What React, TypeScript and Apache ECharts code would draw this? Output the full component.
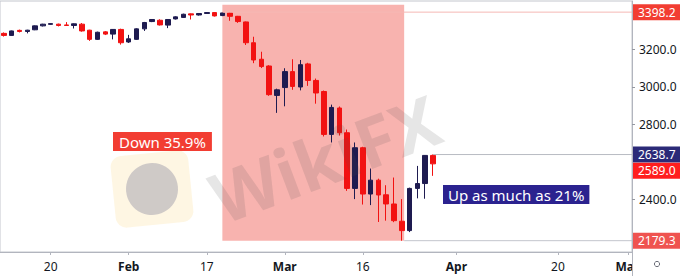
import React, { useEffect, useRef } from "react";
import * as echarts from "echarts";

const categories = [
  "01-10", "01-13", "01-14", "01-15", "01-16", "01-17", "01-20", "01-21", "01-22", "01-23", "01-24",
  "01-27", "01-28", "01-29", "01-30", "01-31",
  "02-03", "02-04", "02-05", "02-06", "02-07", "02-10", "02-11", "02-12", "02-13", "02-14",
  "02-17", "02-18", "02-19", "02-20", "02-21", "02-24", "02-25", "02-26", "02-27", "02-28",
  "03-02", "03-03", "03-04", "03-05", "03-06", "03-09", "03-10", "03-11", "03-12", "03-13",
  "03-16", "03-17", "03-18", "03-19", "03-20", "03-23", "03-24", "03-25", "03-26", "03-27",
  "03-30", "03-31",
  "04-01", "04-02", "04-03", "04-06", "04-07", "04-08", "04-09", "04-10", "04-13", "04-14",
  "04-15", "04-16", "04-17", "04-20", "04-21", "04-22", "04-23", "04-24", "04-27", "04-28",
  "04-29", "04-30", "05-01",
];

const opens = [
  3285, 3274, 3301, 3295, 3304, 3325, 3333, 3334, 3330, 3327, 3334, 3302, 3253, 3293, 3281, 3306,
  3239, 3253, 3309, 3348, 3355, 3329, 3362, 3370, 3389, 3383, 3391, 3396, 3380, 3394, 3376, 3346,
  3235, 3147, 3111, 2954, 2996, 3081, 2999, 3122, 3034, 2975, 2746, 2887, 2755, 2458, 2675, 2428,
  2502, 2424, 2375, 2283, 2233, 2458, 2484, 2634,
];
const highs = [
  3290, 3300, 3305, 3304, 3327, 3336, 3339, 3337, 3345, 3338, 3340, 3304, 3294, 3297, 3308, 3310,
  3277, 3312, 3346, 3361, 3360, 3361, 3376, 3390, 3391, 3393, 3397.5, 3397, 3398.2, 3397, 3378, 3348,
  3267, 3187, 3115, 2990, 3099, 3147, 3143, 3128, 3044, 2980, 2905, 2895, 2772, 2703, 2680, 2564,
  2510, 2475, 2516, 2401, 2462, 2578, 2636, 2638.7,
];
const lows = [
  3268, 3272, 3290, 3285, 3302, 3322, 3331, 3322, 3325, 3311, 3294, 3245, 3250, 3276, 3253, 3225,
  3234, 3250, 3298, 3345, 3327, 3313, 3359, 3368, 3359, 3380, 3389, 3375, 3377, 3352, 3341, 3223,
  3126, 3100, 2952, 2861, 2896, 2984, 2981, 3005, 2910, 2735, 2703, 2740, 2445, 2401, 2372, 2369,
  2279, 2286, 2278, 2179.3, 2225, 2405, 2403, 2525,
];
const closes = [
  3274, 3298, 3295, 3302, 3325, 3334, 3337, 3327, 3327, 3336, 3298, 3253, 3291, 3281, 3306, 3235,
  3256, 3309, 3343, 3359, 3330, 3359, 3373, 3387, 3383, 3391, 3396, 3378, 3394, 3376, 3348, 3235,
  3143, 3108, 2958, 2984, 3081, 3002, 3118, 3034, 2967, 2746, 2890, 2755, 2458, 2675, 2428, 2502,
  2423, 2375, 2286, 2233, 2458, 2484, 2634, 2589.0,
];

const tickDates = ["01-20", "02-03", "02-17", "03-02", "03-16", "04-01", "04-20", "05-01"];
const tickLabels = ["20", "Feb", "17", "Mar", "16", "Apr", "20", "May"];
const monthLabels = ["Feb", "Mar", "Apr", "May"];

const priceTicks = [2400, 2800, 3000, 3200];

const levelValues = [3398.2, 2638.7, 2589.0, 2179.3];
const levelStarts = [28, 55, 55, 51.3];
const levelLineColors = ["#f5b8b5", "#b8bbc3", "rgba(0,0,0,0)", "#c3c6cd"];
const levelBoxColors = ["#f23d32", "#2b2a78", "#ff1e1e", "#ef5350"];

const rangeStart = 28;
const rangeEnd = 51.3;
const rangeTop = 3438;
const rangeBottom = 2179.3;

const downText = "Down 35.9%";
const upText = "Up as much as 21%";

const FONT = '"Noto Sans", "DejaVu Sans", sans-serif';

export default function App() {
  const ref = useRef<HTMLDivElement>(null);

  useEffect(() => {
    if (!ref.current) return;
    const chart = echarts.init(ref.current, undefined, { renderer: "svg" });
    const lastIdx = categories.length - 0.5;

    const levelSeries = levelValues.map((v, i) => ({
      type: "line",
      xAxisIndex: 1,
      yAxisIndex: 0,
      data: [
        [levelStarts[i], v],
        [lastIdx, v],
      ],
      symbol: "none",
      silent: true,
      clip: false,
      z: 4,
      lineStyle: { color: levelLineColors[i], width: 1 },
      endLabel: {
        show: true,
        formatter: (p: any) => Number(p.value[1]).toFixed(1),
        color: "#ffffff",
        backgroundColor: levelBoxColors[i],
        padding: [2, 5, 2, 5],
        fontSize: 12,
        fontFamily: FONT,
        lineHeight: 12,
        distance: 1,
        offset: i === 2 ? [0, 7] : [0, 0],
      },
      markArea:
        i === 0
          ? {
              silent: true,
              itemStyle: { color: "#f8b3af" },
              data: [
                [
                  { coord: [rangeStart, rangeTop] },
                  { coord: [rangeEnd, rangeBottom] },
                ],
              ],
            }
          : undefined,
    }));

    const option: any = {
      animation: false,
      textStyle: { fontFamily: FONT },
      grid: {
        left: 0,
        right: 48,
        top: 1,
        bottom: 24,
        show: true,
        borderColor: "#c3c6cd",
        borderWidth: 1,
      },
      xAxis: [
        {
          type: "category",
          data: categories,
          boundaryGap: true,
          axisLine: { show: true, onZero: false, lineStyle: { color: "#b2b5be" } },
          axisTick: {
            show: true,
            length: 3,
            alignWithLabel: true,
            interval: (_i: number, v: string) => tickDates.includes(v),
            lineStyle: { color: "#b2b5be" },
          },
          axisLabel: {
            interval: (_i: number, v: string) => tickDates.includes(v),
            formatter: (v: string) => {
              const t = tickLabels[tickDates.indexOf(v)] || "";
              return monthLabels.includes(t) ? `{b|${t}}` : t;
            },
            color: "#131722",
            fontSize: 12,
            margin: 8,
            fontFamily: FONT,
            rich: {
              b: { fontWeight: "bold", fontSize: 12, color: "#131722", fontFamily: FONT },
            },
          },
          splitLine: { show: false },
        },
        {
          type: "value",
          min: -0.5,
          max: lastIdx,
          show: false,
          axisLine: { onZero: false },
        },
      ],
      yAxis: {
        type: "value",
        position: "right",
        min: 2118.9,
        max: 3457.6,
        axisLine: { show: true, onZero: false, lineStyle: { color: "#b2b5be" } },
        axisTick: {
          show: true,
          length: 3,
          customValues: priceTicks,
          lineStyle: { color: "#9598a1" },
        },
        axisLabel: {
          customValues: priceTicks,
          formatter: (v: number) => v.toFixed(1),
          color: "#131722",
          fontSize: 12,
          margin: 7,
          fontFamily: FONT,
        },
        splitLine: { show: false },
      },
      series: [
        {
          type: "candlestick",
          xAxisIndex: 0,
          yAxisIndex: 0,
          z: 3,
          barWidth: 5,
          data: opens.map((o, i) => [o, closes[i], lows[i], highs[i]]),
          itemStyle: {
            color: "#1e1b50",
            color0: "#f21212",
            borderColor: "#1e1b50",
            borderColor0: "#f21212",
            borderWidth: 1,
          },
        },
        ...levelSeries,
      ],
      graphic: [
        {
          type: "group",
          x: 152,
          y: 189,
          rotation: 0.1,
          z: 5,
          silent: true,
          children: [
            {
              type: "rect",
              shape: { x: -39, y: -36, width: 78, height: 72, r: 11 },
              style: { fill: "rgba(250,218,140,0.24)" },
            },
            {
              type: "circle",
              shape: { cx: 0, cy: 0, r: 26 },
              style: { fill: "rgba(100,100,135,0.3)" },
            },
          ],
        },
        {
          type: "text",
          x: 325,
          y: 158,
          rotation: 0.36,
          z: 10,
          silent: true,
          style: {
            text: "WikiFX",
            font: `bold 70px ${FONT}`,
            fill: "rgba(80,80,80,0.14)",
            align: "center",
            verticalAlign: "middle",
          },
        },
        {
          type: "text",
          left: 113,
          top: 132,
          z: 20,
          silent: true,
          style: {
            text: downText,
            font: `15px ${FONT}`,
            fill: "#ffffff",
            backgroundColor: "#f23d32",
            padding: [1, 6, 1, 6],
            lineHeight: 17,
          },
        },
        {
          type: "text",
          left: 443,
          top: 185,
          z: 20,
          silent: true,
          style: {
            text: upText,
            font: `15px ${FONT}`,
            fill: "#ffffff",
            backgroundColor: "#2b228f",
            padding: [1, 5, 1, 5],
            lineHeight: 17,
          },
        },
        {
          type: "rect",
          shape: { x: 633, y: 253, width: 47, height: 23 },
          style: { fill: "#ffffff" },
          z: 30,
          silent: true,
        },
        {
          type: "line",
          shape: { x1: 632.5, y1: 252, x2: 632.5, y2: 276 },
          style: { stroke: "#b2b5be", lineWidth: 1 },
          z: 31,
          silent: true,
        },
        {
          type: "circle",
          shape: { cx: 657, cy: 264, r: 2.6 },
          style: { fill: "none", stroke: "#6a6d78", lineWidth: 1 },
          z: 31,
          silent: true,
        },
      ],
    };

    chart.setOption(option);
    return () => chart.dispose();
  }, []);

  return (
    <div
      ref={ref}
      style={{ position: "absolute", left: 0, top: 0, width: 680, height: 276 }}
    />
  );
}
